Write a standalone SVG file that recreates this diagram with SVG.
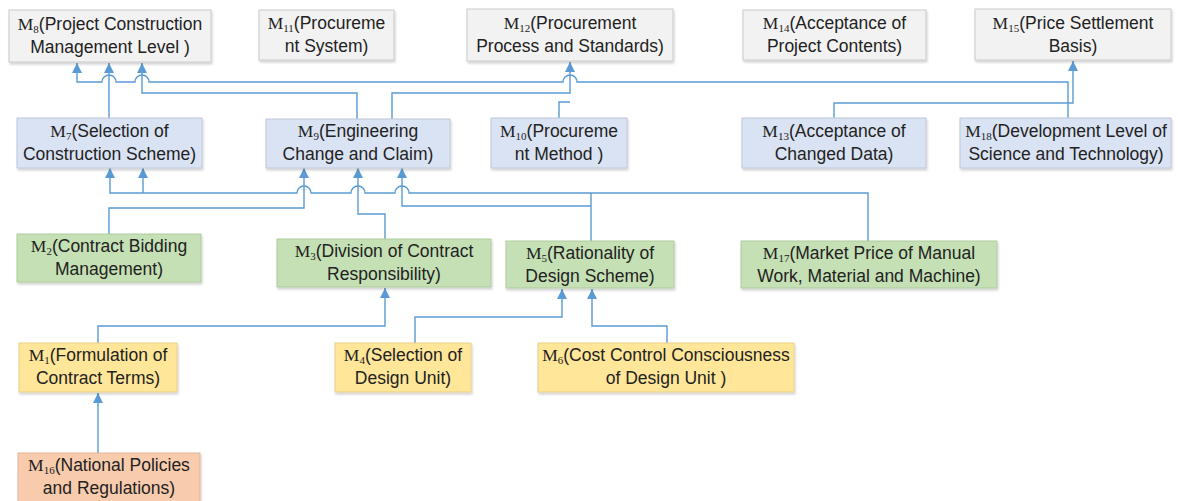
<svg xmlns="http://www.w3.org/2000/svg" width="1178" height="501" viewBox="0 0 1178 501">
<defs>
<filter id="sh" x="-5%" y="-10%" width="115%" height="130%"><feDropShadow dx="1" dy="2" stdDeviation="1.2" flood-color="#000" flood-opacity="0.18"/></filter>
<marker id="ar" markerUnits="userSpaceOnUse" markerWidth="10" markerHeight="10" refX="10" refY="5" orient="auto"><path d="M0,0 L10,5 L0,10 z" fill="#5B9BD5"/></marker>
<style>
.n rect{stroke-width:1;filter:url(#sh)}
.g rect{fill:#F2F2F2;stroke:#CACACA}
.b rect{fill:#DAE3F3;stroke:#BEC8DA}
.gr rect{fill:#C5E0B4;stroke:#AFCB9E}
.y rect{fill:#FFE699;stroke:#E8D08A}
.o rect{fill:#F8CBAD;stroke:#E2B59A}
.n text{font-family:"Liberation Sans",Arial,sans-serif;font-size:17.5px;fill:#222;text-anchor:middle}
.m{font-family:"Liberation Serif","Times New Roman",serif}
.s{font-family:"Liberation Serif","Times New Roman",serif;font-size:11px}
.c path{fill:none;stroke:#5B9BD5;stroke-width:1.4}
</style>
</defs>
<g id="connectors" class="c">
<path d="M1068,118 V82 H577 A7,7 0 0 0 563,82 H149 A7,7 0 0 0 135,82 H116 A7,7 0 0 0 102,82 H77 V63" marker-end="url(#ar)"/>
<path d="M834,118 V103 H1073 V61" marker-end="url(#ar)"/>
<path d="M109,118 V63" marker-end="url(#ar)"/>
<path d="M357,119 V93 H142 V63" marker-end="url(#ar)"/>
<path d="M392,119 V93 H570 V62" marker-end="url(#ar)"/>
<path d="M559,118 V102 H570"/>
<path d="M868,241 V193 H409 A7,7 0 0 0 395,193 H365 A7,7 0 0 0 351,193 H311 A7,7 0 0 0 297,193 H110 V168" marker-end="url(#ar)"/>
<path d="M591,241 V193"/>
<path d="M143,193 V168" marker-end="url(#ar)"/>
<path d="M591,206 H402 V168" marker-end="url(#ar)"/>
<path d="M109,234 V208 H304 V168" marker-end="url(#ar)"/>
<path d="M385,239 V214 H358 V168" marker-end="url(#ar)"/>
<path d="M98,343 V326 H385 V288" marker-end="url(#ar)"/>
<path d="M415,343 V317 H562 V289" marker-end="url(#ar)"/>
<path d="M667,343 V326 H592 V289" marker-end="url(#ar)"/>
<path d="M98,453 V393" marker-end="url(#ar)"/>
</g>
<g id="M8" class="n g"><rect x="9" y="10" width="202" height="52"/><text x="110" y="30"><tspan class="m">M</tspan><tspan class="s" dy="3">8</tspan><tspan dy="-3">(Project Construction</tspan></text><text x="110" y="53">Management Level )</text></g>
<g id="M11" class="n g"><rect x="259" y="10" width="135" height="50"/><text x="326.5" y="29"><tspan class="m">M</tspan><tspan class="s" dy="3">11</tspan><tspan dy="-3">(Procureme</tspan></text><text x="326.5" y="52">nt System)</text></g>
<g id="M12" class="n g"><rect x="467" y="9" width="206" height="52"/><text x="570" y="29"><tspan class="m">M</tspan><tspan class="s" dy="3">12</tspan><tspan dy="-3">(Procurement</tspan></text><text x="570" y="52">Process and Standards)</text></g>
<g id="M14" class="n g"><rect x="743" y="10" width="183" height="50"/><text x="834.5" y="29"><tspan class="m">M</tspan><tspan class="s" dy="3">14</tspan><tspan dy="-3">(Acceptance of</tspan></text><text x="834.5" y="52">Project Contents)</text></g>
<g id="M15" class="n g"><rect x="975" y="9" width="196" height="51"/><text x="1073" y="29"><tspan class="m">M</tspan><tspan class="s" dy="3">15</tspan><tspan dy="-3">(Price Settlement</tspan></text><text x="1073" y="52">Basis)</text></g>
<g id="M7" class="n b"><rect x="17" y="118" width="185" height="50"/><text x="109.5" y="137"><tspan class="m">M</tspan><tspan class="s" dy="3">7</tspan><tspan dy="-3">(Selection of</tspan></text><text x="109.5" y="160">Construction Scheme)</text></g>
<g id="M9" class="n b"><rect x="266" y="119" width="184" height="49"/><text x="358" y="137"><tspan class="m">M</tspan><tspan class="s" dy="3">9</tspan><tspan dy="-3">(Engineering</tspan></text><text x="358" y="160">Change and Claim)</text></g>
<g id="M10" class="n b"><rect x="491" y="118" width="136" height="50"/><text x="559" y="137"><tspan class="m">M</tspan><tspan class="s" dy="3">10</tspan><tspan dy="-3">(Procureme</tspan></text><text x="559" y="160">nt Method )</text></g>
<g id="M13" class="n b"><rect x="742" y="118" width="184" height="50"/><text x="834" y="137"><tspan class="m">M</tspan><tspan class="s" dy="3">13</tspan><tspan dy="-3">(Acceptance of</tspan></text><text x="834" y="160">Changed Data)</text></g>
<g id="M18" class="n b"><rect x="960" y="118" width="211" height="50"/><text x="1066" y="137"><tspan class="m">M</tspan><tspan class="s" dy="3">18</tspan><tspan dy="-3">(Development Level of</tspan></text><text x="1066" y="160">Science and Technology)</text></g>
<g id="M2" class="n gr"><rect x="17" y="234" width="184" height="48"/><text x="109" y="252"><tspan class="m">M</tspan><tspan class="s" dy="3">2</tspan><tspan dy="-3">(Contract Bidding</tspan></text><text x="109" y="275">Management)</text></g>
<g id="M3" class="n gr"><rect x="277" y="239" width="214" height="48"/><text x="384" y="257"><tspan class="m">M</tspan><tspan class="s" dy="3">3</tspan><tspan dy="-3">(Division of Contract</tspan></text><text x="384" y="280">Responsibility)</text></g>
<g id="M5" class="n gr"><rect x="506" y="241" width="168" height="47"/><text x="590" y="259"><tspan class="m">M</tspan><tspan class="s" dy="3">5</tspan><tspan dy="-3">(Rationality of</tspan></text><text x="590" y="282">Design Scheme)</text></g>
<g id="M17" class="n gr"><rect x="741" y="241" width="256" height="47"/><text x="869" y="259"><tspan class="m">M</tspan><tspan class="s" dy="3">17</tspan><tspan dy="-3">(Market Price of Manual</tspan></text><text x="869" y="282">Work, Material and Machine)</text></g>
<g id="M1" class="n y"><rect x="19" y="343" width="158" height="49"/><text x="98" y="361"><tspan class="m">M</tspan><tspan class="s" dy="3">1</tspan><tspan dy="-3">(Formulation of</tspan></text><text x="98" y="384">Contract Terms)</text></g>
<g id="M4" class="n y"><rect x="335" y="343" width="136" height="49"/><text x="403" y="361"><tspan class="m">M</tspan><tspan class="s" dy="3">4</tspan><tspan dy="-3">(Selection of</tspan></text><text x="403" y="384">Design Unit)</text></g>
<g id="M6" class="n y"><rect x="538" y="343" width="256" height="49"/><text x="666" y="361"><tspan class="m">M</tspan><tspan class="s" dy="3">6</tspan><tspan dy="-3">(Cost Control Consciousness</tspan></text><text x="666" y="384">of Design Unit )</text></g>
<g id="M16" class="n o"><rect x="18" y="453" width="182" height="50"/><text x="109" y="471"><tspan class="m">M</tspan><tspan class="s" dy="3">16</tspan><tspan dy="-3">(National Policies</tspan></text><text x="109" y="494">and Regulations)</text></g>
</svg>
